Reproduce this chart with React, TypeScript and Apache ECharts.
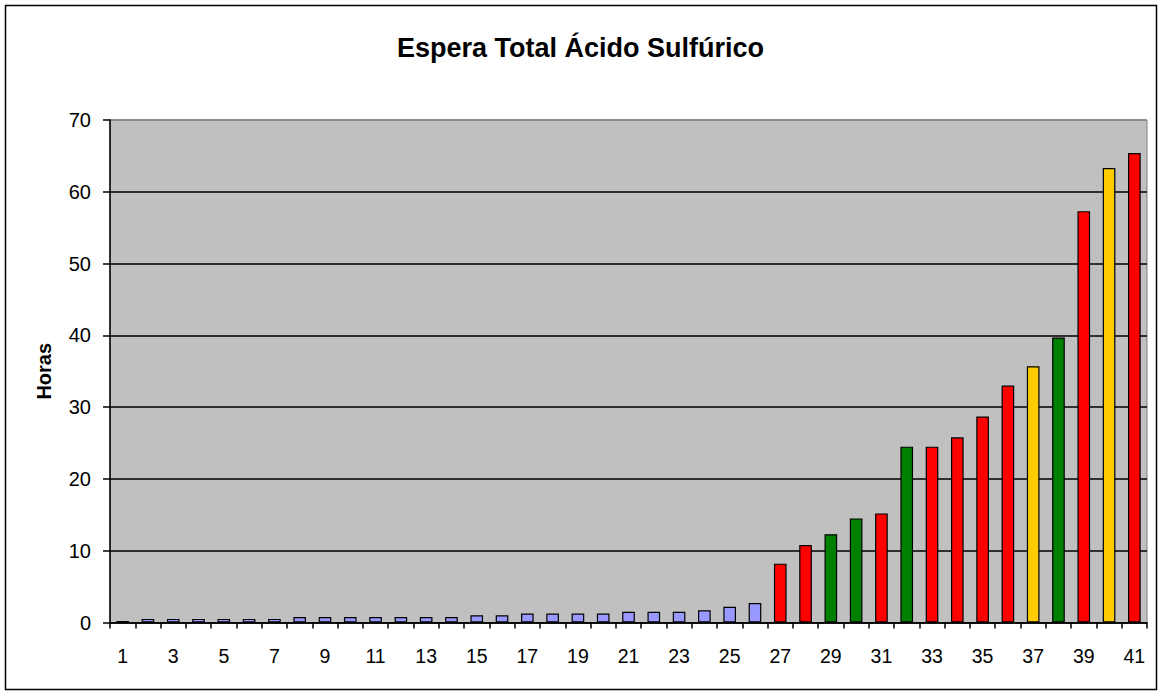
import React, { useEffect, useRef } from "react";
import * as echarts from "echarts";

const categories: string[] = Array.from({ length: 41 }, (_, i) => String(i + 1));

const hours: number[] = [
  0.2, 0.5, 0.5, 0.5, 0.5, 0.5, 0.5, 0.75, 0.75, 0.75,
  0.75, 0.75, 0.75, 0.75, 1.0, 1.0, 1.25, 1.25, 1.25, 1.25,
  1.5, 1.5, 1.5, 1.7, 2.2, 2.7, 8.2, 10.8, 12.3, 14.5,
  15.2, 24.5, 24.5, 25.8, 28.7, 33.0, 35.7, 39.7, 57.3, 63.3,
  65.4,
];

// status of each bar: b = blue, r = red, g = green, y = yellow
const status: string[] = [
  "b", "b", "b", "b", "b", "b", "b", "b", "b", "b",
  "b", "b", "b", "b", "b", "b", "b", "b", "b", "b",
  "b", "b", "b", "b", "b", "b", "r", "r", "g", "g",
  "r", "g", "r", "r", "r", "r", "y", "g", "r", "y",
  "r",
];

const statusColors: Record<string, string> = {
  b: "#9999FF",
  r: "#FF0000",
  g: "#008000",
  y: "#FFCC00",
};

const yTicks: number[] = [0, 10, 20, 30, 40, 50, 60, 70];

const FONT = "'Liberation Sans', Arial, sans-serif";

export default function App() {
  const ref = useRef<HTMLDivElement>(null);

  useEffect(() => {
    if (!ref.current) return;
    const chart = echarts.init(ref.current, undefined, { renderer: "svg" });
    const option: any = {
      animation: false,
      backgroundColor: "#FFFFFF",
      title: {
        text: "Espera Total Ácido Sulfúrico",
        left: "center",
        top: 34,
        padding: 0,
        textStyle: {
          fontFamily: FONT,
          fontSize: 27,
          fontWeight: "bold",
          color: "#000",
        },
      },
      graphic: [
        {
          type: "rect",
          shape: { x: 5.5, y: 5.5, width: 1151, height: 684 },
          style: { fill: "none", stroke: "#000", lineWidth: 1.5 },
          z: 100,
        },
      ],
      grid: {
        left: 110,
        top: 120,
        width: 1037,
        height: 502.5,
        show: true,
        backgroundColor: "#C0C0C0",
        borderColor: "#808080",
        borderWidth: 1,
        containLabel: false,
      },
      xAxis: {
        type: "category",
        data: categories,
        axisLine: { show: true, lineStyle: { color: "#000", width: 1.5 } },
        axisTick: {
          show: true,
          interval: 0,
          alignWithLabel: false,
          length: 6,
          lineStyle: { color: "#000", width: 1.5 },
        },
        axisLabel: {
          interval: 1,
          margin: 23,
          fontFamily: FONT,
          fontSize: 19.5,
          color: "#000",
        },
        splitLine: { show: false },
      },
      yAxis: {
        type: "value",
        min: yTicks[0],
        max: yTicks[yTicks.length - 1],
        interval: 10,
        name: "Horas",
        nameLocation: "middle",
        nameRotate: 90,
        nameGap: 56,
        nameTextStyle: {
          fontFamily: FONT,
          fontSize: 20,
          fontWeight: "bold",
          color: "#000",
        },
        axisLine: { show: true, lineStyle: { color: "#000", width: 1.5 } },
        axisTick: {
          show: true,
          length: 7,
          lineStyle: { color: "#000", width: 1.5 },
        },
        axisLabel: {
          margin: 19,
          fontFamily: FONT,
          fontSize: 20,
          color: "#000",
        },
        splitLine: {
          show: true,
          lineStyle: {
            color: ["#000", "#000", "#000", "#000", "#000", "#000", "#000", "#808080"],
            width: 1.5,
          },
        },
      },
      series: [
        {
          type: "bar",
          data: hours.map((v, i) => ({
            value: v,
            itemStyle: { color: statusColors[status[i]] },
          })),
          barWidth: "50%",
          itemStyle: { borderColor: "#000", borderWidth: 1.2 },
        },
      ],
    };
    chart.setOption(option);
    return () => chart.dispose();
  }, []);

  return (
    <div
      ref={ref}
      style={{ position: "fixed", left: 0, top: 0, width: 1161, height: 692 }}
    />
  );
}
